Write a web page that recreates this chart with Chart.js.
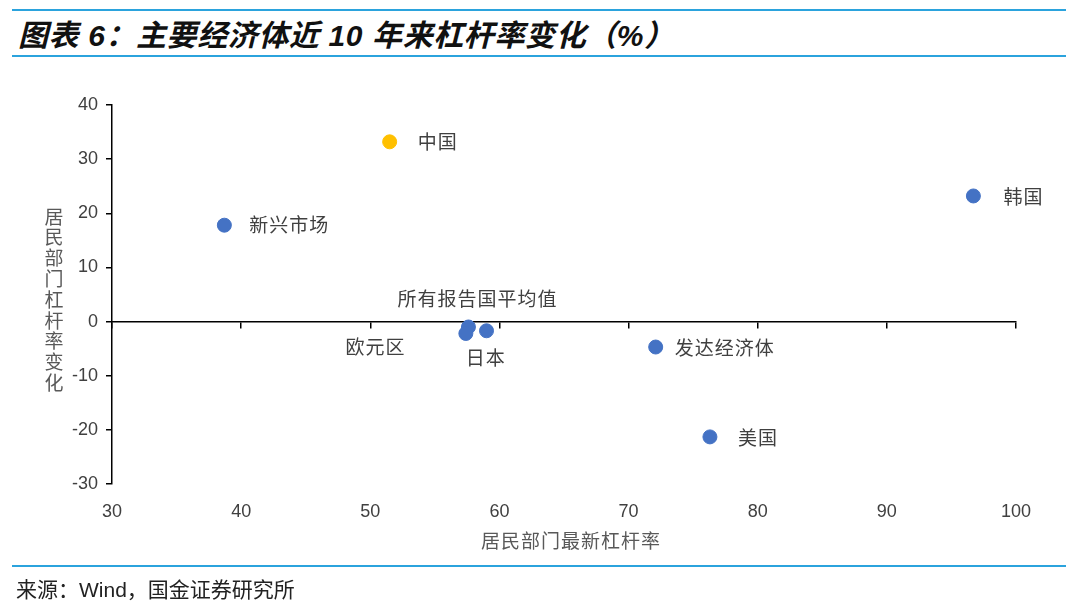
<!DOCTYPE html>
<html>
<head>
<meta charset="utf-8">
<script src="https://cdn.jsdelivr.net/npm/chart.js@4.4.1/dist/chart.umd.min.js"></script>
<style>
  body { margin: 0; background: #fff; width: 1080px; height: 612px; overflow: hidden; position: relative; }
  .rule { position: absolute; left: 12px; right: 14px; height: 2px; background: #2BA3DD; }
  #title { position: absolute; left: 18px; top: 11px; font: italic bold 30px "Liberation Sans", "Noto Sans CJK SC", sans-serif; letter-spacing: 0.6px; color: #111; white-space: nowrap; }
  #source { position: absolute; left: 16px; top: 573px; font: 21px "Liberation Sans", "Noto Sans CJK SC", sans-serif; color: #222; white-space: nowrap; }
  #wrap { position: absolute; left: 0; top: 0; width: 1080px; height: 612px; }
</style>
</head>
<body>
<div class="rule" style="top:9px"></div>
<div id="title">图表 6：主要经济体近 10 年来杠杆率变化（%）</div>
<div class="rule" style="top:55px"></div>
<div id="wrap"><canvas id="chart" width="1080" height="612"></canvas></div>
<div class="rule" style="top:565px"></div>
<div id="source">来源：Wind，国金证券研究所</div>

<script>
// 数据
const names = ['中国', '新兴市场', '韩国', '所有报告国平均值', '欧元区', '日本', '发达经济体', '美国'];
const leverage = [51.5, 38.7, 96.7, 59.0, 57.6, 57.4, 72.1, 76.3];   // 居民部门最新杠杆率
const change = [33.2, 17.8, 23.2, -1.7, -1.0, -2.2, -4.7, -21.3];    // 近10年杠杆率变化
const xTitle = '居民部门最新杠杆率';
const yTitle = '居民部门杠杆率变化';

// 标签位置 [dx, dy, 对齐]
const labelPos = [
  [28, 0, 'left'], [25, 0, 'left'], [30, 1, 'left'], [-9, -32, 'center'],
  [-93, 20, 'center'], [20, 24, 'center'], [19, 1, 'left'], [28, 1, 'left']
];
const colors = names.map(n => n === '中国' ? '#FFC000' : '#4472C4');

const cjk = '"Noto Sans CJK SC", sans-serif';

const labelPlugin = {
  id: 'labels',
  afterDatasetsDraw(chart) {
    const ctx = chart.ctx;
    const meta = chart.getDatasetMeta(0);
    ctx.save();
    ctx.font = '19px ' + cjk;
    ctx.letterSpacing = '1px';
    ctx.fillStyle = '#404040';
    ctx.textBaseline = 'middle';
    meta.data.forEach((pt, i) => {
      const p = labelPos[i];
      ctx.textAlign = p[2];
      ctx.fillText(names[i], pt.x + p[0], pt.y + p[1]);
    });
    // 轴标题
    const a = chart.chartArea;
    ctx.textAlign = 'center';
    ctx.fillStyle = '#595959';
    ctx.fillText(xTitle, (a.left + a.right) / 2 + 7, a.bottom + 57);
    ctx.letterSpacing = '0px';
    const chars = yTitle.split('');
    const mid = (a.top + a.bottom) / 2 + 5;
    chars.forEach((c, i) => {
      ctx.fillText(c, 54, mid + (i - (chars.length - 1) / 2) * 20.8);
    });
    ctx.restore();
  }
};

new Chart(document.getElementById('chart'), {
  type: 'scatter',
  data: {
    datasets: [{
      data: leverage.map((v, i) => ({ x: v, y: change[i] })),
      backgroundColor: colors,
      borderColor: colors,
      pointRadius: 7,
      pointHoverRadius: 7
    }]
  },
  options: {
    responsive: false,
    animation: false,
    devicePixelRatio: 1,
    layout: { padding: { left: 0, right: 64, top: 105, bottom: 88 } },
    plugins: { legend: { display: false }, tooltip: { enabled: false } },
    scales: {
      x: {
        type: 'linear', min: 30, max: 100,
        position: { y: 0 },
        ticks: { display: false, stepSize: 10 },
        grid: { drawOnChartArea: false, drawTicks: true, tickLength: 6, color: '#000', lineWidth: 1.5 },
        border: { color: '#000', width: 1.5 }
      },
      x2: {
        type: 'linear', min: 30, max: 100, position: 'bottom',
        ticks: { stepSize: 10, padding: 17, color: '#404040', font: { family: 'Liberation Sans', size: 18 } },
        grid: { display: false, drawTicks: false },
        border: { display: false },
        afterFit: s => { s.height = 40; }
      },
      y: {
        type: 'linear', min: -30, max: 40, position: 'left',
        ticks: { stepSize: 10, padding: 8, color: '#404040', font: { family: 'Liberation Sans', size: 18 } },
        grid: { drawOnChartArea: false, drawTicks: true, tickLength: 6, color: '#000', lineWidth: 1.5 },
        border: { color: '#000', width: 1.5 },
        afterFit: s => { s.width = 112; }
      }
    }
  },
  plugins: [labelPlugin]
});
</script>
</body>
</html>
